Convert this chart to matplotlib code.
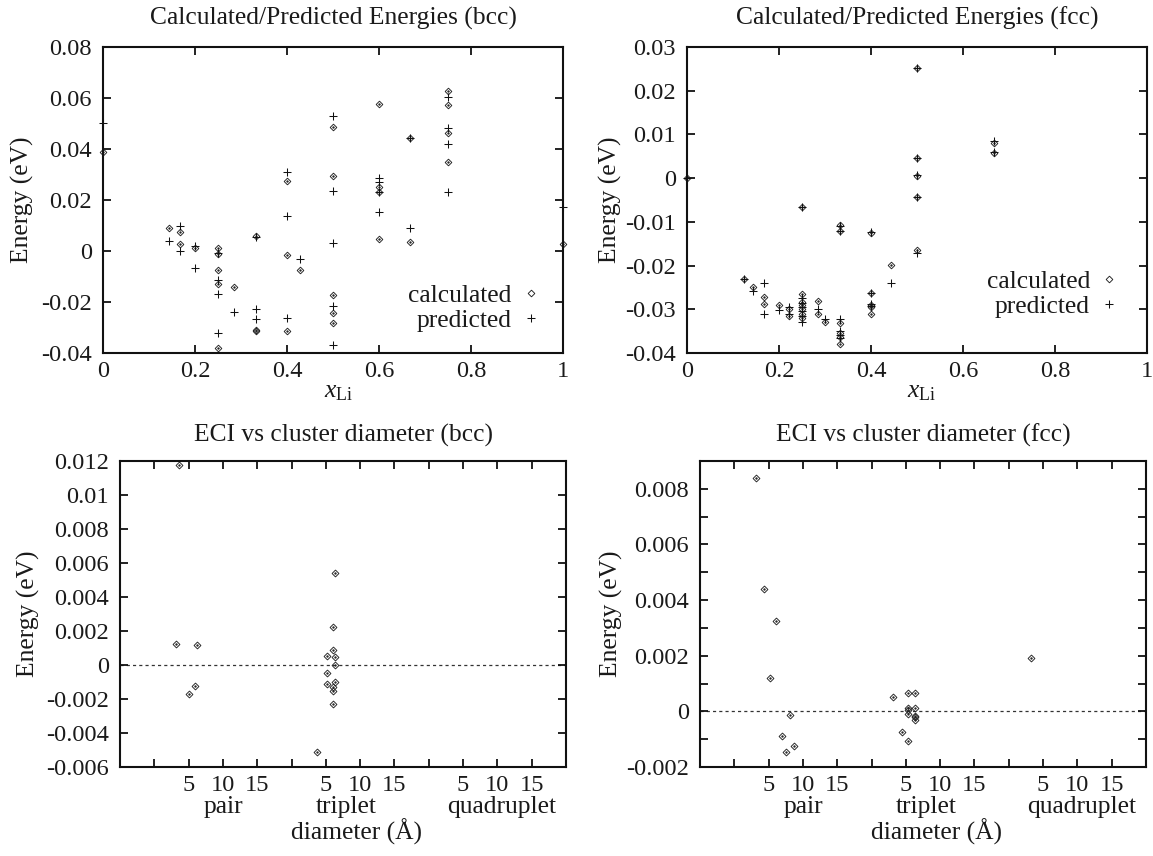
import matplotlib
matplotlib.use('Agg')
import matplotlib.pyplot as plt
from matplotlib.ticker import FixedLocator

plt.rcParams['font.family'] = 'Liberation Serif'
plt.rcParams['mathtext.fontset'] = 'custom'
plt.rcParams['mathtext.rm'] = 'Liberation Serif'
plt.rcParams['mathtext.it'] = 'Liberation Serif:italic'

# ---------------- data ----------------
bcc_calc_x = [0, 1/7, 1/6, 1/6, 0.2, 0.25, 0.25, 0.25, 0.25, 0.25, 2/7, 1/3, 1/3, 1/3,
              0.4, 0.4, 0.4, 3/7, 0.5, 0.5, 0.5, 0.5, 0.5, 0.6, 0.6, 0.6, 0.6,
              2/3, 2/3, 0.75, 0.75, 0.75, 0.75, 1]
bcc_calc_y = [0.0390, 0.0090, 0.0076, 0.0026, 0.0011, 0.0013, -0.0010, -0.0076, -0.0131, -0.0382,
              -0.0140, 0.0060, -0.0313, -0.0311, 0.0275, -0.0014, -0.0313, -0.0076,
              0.0485, 0.0294, -0.0174, -0.0245, -0.0283, 0.0577, 0.0252, 0.0232, 0.0049,
              0.0442, 0.0034, 0.0627, 0.0573, 0.0463, 0.0350, 0.0026]
bcc_pred_x = [0, 1/7, 1/6, 1/6, 0.2, 0.2, 0.25, 0.25, 0.25, 0.25, 2/7, 1/3, 1/3, 1/3,
              0.4, 0.4, 0.4, 3/7, 0.5, 0.5, 0.5, 0.5, 0.5, 0.6, 0.6, 0.6, 0.6,
              2/3, 2/3, 0.75, 0.75, 0.75, 0.75, 1]
bcc_pred_y = [0.0501, 0.0041, 0.0098, 0.0000, 0.0018, -0.0066, -0.0008, -0.0114, -0.0168, -0.0320,
              -0.0241, 0.0055, -0.0227, -0.0266, 0.0308, 0.0139, -0.0264, -0.0033,
              0.0531, 0.0237, 0.0030, -0.0214, -0.0369, 0.0285, 0.0272, 0.0232, 0.0153,
              0.0442, 0.0090, 0.0603, 0.0481, 0.0420, 0.0232, 0.0171]

fcc_calc_x = [0, 1/8, 1/7, 1/6, 1/6, 0.2, 2/9, 2/9,
              0.25, 0.25, 0.25, 0.25, 0.25, 0.25, 0.25, 2/7, 2/7, 0.3,
              1/3, 1/3, 1/3, 1/3, 1/3, 1/3, 0.4, 0.4, 0.4, 0.4, 0.4, 4/9,
              0.5, 0.5, 0.5, 0.5, 0.5, 2/3, 2/3]
fcc_calc_y = [0.0, -0.0231, -0.0249, -0.0273, -0.0289, -0.0291, -0.0300, -0.0316,
              -0.0067, -0.0264, -0.0283, -0.0290, -0.0300, -0.0310, -0.0321, -0.0281, -0.0311, -0.0328,
              -0.0108, -0.0120, -0.0332, -0.0354, -0.0363, -0.0379, -0.0126, -0.0262, -0.0290, -0.0294, -0.0311, -0.0198,
              0.0251, 0.0045, 0.0005, -0.0042, -0.0164, 0.0057, 0.0081]
fcc_pred_x = [0, 1/8, 1/7, 1/6, 1/6, 0.2, 2/9, 2/9,
              0.25, 0.25, 0.25, 0.25, 0.25, 0.25, 0.25, 2/7, 0.3,
              1/3, 1/3, 1/3, 1/3, 1/3, 1/3, 0.4, 0.4, 0.4, 0.4, 4/9,
              0.5, 0.5, 0.5, 0.5, 0.5, 2/3, 2/3]
fcc_pred_y = [0.0, -0.0231, -0.0259, -0.0241, -0.0310, -0.0302, -0.0295, -0.0310,
              -0.0067, -0.0275, -0.0285, -0.0295, -0.0305, -0.0315, -0.0328, -0.0300, -0.0323,
              -0.0110, -0.0120, -0.0323, -0.0350, -0.0358, -0.0366, -0.0124, -0.0262, -0.0288, -0.0292, -0.0239,
              0.0251, 0.0047, 0.0008, -0.0042, -0.0172, 0.0059, 0.0085]

# ECI (x = diameter + 20*group offset: pair 0, triplet 20, quadruplet 40)
bcc_eci_x = [3.6, 3.1, 6.2, 5.1, 5.9,
             26.3, 26.0, 26.0, 25.15, 26.3, 26.3, 25.15, 26.3, 25.15, 26.0, 26.0, 26.0, 23.7]
bcc_eci_y = [0.01176, 0.00125, 0.00116, -0.00173, -0.00125,
             0.00541, 0.00225, 0.00090, 0.00051, 0.00045, 0.0, -0.00049, -0.00098, -0.00112,
             -0.00131, -0.00151, -0.00231, -0.00512]
fcc_eci_x = [3.1, 4.4, 6.1, 5.25, 8.1, 6.9, 7.5, 8.7,
             23.1, 25.3, 26.3, 25.3, 25.3, 26.3, 25.3, 26.3, 26.3, 26.3, 24.4, 25.3,
             43.2]
fcc_eci_y = [0.00838, 0.00440, 0.00324, 0.00121, -0.00014, -0.00087, -0.00147, -0.00125,
             0.00050, 0.00065, 0.00065, 0.00012, 0.00006, 0.00011, -0.00011, -0.00016, -0.00020, -0.00030,
             -0.00073, -0.00105,
             0.00193]

comp_ticks = [0, 0.2, 0.4, 0.6, 0.8, 1]
comp_ticklabels = ['0', '0.2', '0.4', '0.6', '0.8', '1']
bcc_e_ticks = [-0.04, -0.02, 0, 0.02, 0.04, 0.06, 0.08]
bcc_e_labels = ['-0.04', '-0.02', '0', '0.02', '0.04', '0.06', '0.08']
fcc_e_ticks = [-0.04, -0.03, -0.02, -0.01, 0, 0.01, 0.02, 0.03]
fcc_e_labels = ['-0.04', '-0.03', '-0.02', '-0.01', '0', '0.01', '0.02', '0.03']
diam_ticks = [0, 5, 10, 15, 20, 25, 30, 35, 40, 45, 50, 55]
diam_labels = ['', '5', '10', '15', '', '5', '10', '15', '', '5', '10', '15']
groups = ['pair', 'triplet', 'quadruplet']
group_pos = [10.1, 27.9, 50.6]
bcc_eci_ticks = [-0.006, -0.004, -0.002, 0, 0.002, 0.004, 0.006, 0.008, 0.010, 0.012]
bcc_eci_labels = ['-0.006', '-0.004', '-0.002', '0', '0.002', '0.004', '0.006', '0.008', '0.01', '0.012']
fcc_eci_ticks = [-0.002, 0, 0.002, 0.004, 0.006, 0.008]
fcc_eci_labels = ['-0.002', '0', '0.002', '0.004', '0.006', '0.008']
fcc_eci_minor = [-0.001, 0.001, 0.003, 0.005, 0.007, 0.009]

# ---------------- figure ----------------
W, H = 1153, 856
FS = 17.6
FT = 18.4
TXT = '#1a1a1a'
fig = plt.figure(figsize=(W / 100, H / 100), dpi=100)


def box(l, r, t, b):
    return [l / W, 1 - b / H, (r - l) / W, (b - t) / H]


def style(ax, xpad, ypad):
    for s in ax.spines.values():
        s.set_linewidth(1.5)
        s.set_color('#111111')
    ax.tick_params(which='both', direction='in', top=True, right=True, length=5.8, width=1.3,
                   labelsize=FS, colors='#111111', labelcolor=TXT)
    ax.tick_params(axis='x', pad=xpad)
    ax.tick_params(axis='y', pad=ypad)


def energies(ax, cx, cy, px, py, yt, yl, ylim, legend_anchor):
    ax.plot(cx, cy, ls='none', marker='D', ms=3.4, mfc='none', mec='#222222', mew=0.65,
            clip_on=False, label='calculated')
    ax.plot(cx, cy, ls='none', marker='o', ms=0.7, color='#222222', clip_on=False)
    ax.plot(px, py, ls='none', marker='+', ms=5.6, color='#111111', mew=0.75,
            clip_on=False, label='predicted')
    ax.set_xlim(0, 1)
    ax.set_ylim(*ylim)
    ax.set_xticks(comp_ticks, comp_ticklabels)
    ax.set_yticks(yt, yl)
    style(ax, 5.5, 8)
    h, l = ax.get_legend_handles_labels()
    ax.legend(h, ['calculated', 'predicted'],
              loc='lower right', bbox_to_anchor=legend_anchor, frameon=False,
              markerfirst=False, fontsize=FT, handlelength=0.8, handletextpad=0.35,
              labelspacing=0.08, borderpad=0, borderaxespad=0, labelcolor=TXT)


ax1 = fig.add_axes(box(103, 563, 47, 353))
energies(ax1, bcc_calc_x, bcc_calc_y, bcc_pred_x, bcc_pred_y, bcc_e_ticks, bcc_e_labels,
         (-0.04, 0.08), (0.952, 0.068))
ax2 = fig.add_axes(box(687, 1147, 47, 353))
energies(ax2, fcc_calc_x, fcc_calc_y, fcc_pred_x, fcc_pred_y, fcc_e_ticks, fcc_e_labels,
         (-0.04, 0.03), (0.94, 0.115))


def eci(ax, x, y, yt, yl, ylim, minor=None):
    ax.axhline(0, color='#333333', lw=0.9, ls=(0, (2.5, 2.5)), zorder=1)
    ax.plot(x, y, ls='none', marker='D', ms=3.5, mfc='none', mec='#222222', mew=0.65, clip_on=False)
    ax.plot(x, y, ls='none', marker='o', ms=0.7, color='#222222', clip_on=False)
    ax.set_xlim(-5, 60)
    ax.set_ylim(*ylim)
    ax.set_xticks(diam_ticks, diam_labels)
    ax.set_yticks(yt, yl)
    if minor is not None:
        ax.yaxis.set_minor_locator(FixedLocator(minor))
    style(ax, 6, 8)
    for g, p in zip(groups, group_pos):
        ax.text(p, -0.15, g, transform=ax.get_xaxis_transform(), ha='center', va='baseline',
                fontsize=FT, color=TXT)
    ax.text(29.5, -0.238, 'diameter (Å)', transform=ax.get_xaxis_transform(), ha='center',
            va='baseline', fontsize=FT, color=TXT)


ax3 = fig.add_axes(box(120, 566, 461, 767))
eci(ax3, bcc_eci_x, bcc_eci_y, bcc_eci_ticks, bcc_eci_labels, (-0.006, 0.012))
ax4 = fig.add_axes(box(700, 1146, 461, 767))
eci(ax4, fcc_eci_x, fcc_eci_y, fcc_eci_ticks, fcc_eci_labels, (-0.002, 0.009), fcc_eci_minor)

# titles
fig.text(333 / W, 1 - 25 / H, 'Calculated/Predicted Energies (bcc)', ha='center', va='baseline',
         fontsize=FT, color=TXT)
fig.text(917 / W, 1 - 25 / H, 'Calculated/Predicted Energies (fcc)', ha='center', va='baseline',
         fontsize=FT, color=TXT)
fig.text(343 / W, 1 - 442 / H, 'ECI vs cluster diameter (bcc)', ha='center', va='baseline',
         fontsize=FT, color=TXT)
fig.text(923 / W, 1 - 442 / H, 'ECI vs cluster diameter (fcc)', ha='center', va='baseline',
         fontsize=FT, color=TXT)

# x labels (top)
fig.text(339 / W, 1 - 397 / H, r'$x_{\mathrm{Li}}$', ha='center', va='baseline', fontsize=FT, color=TXT)
fig.text(922 / W, 1 - 397 / H, r'$x_{\mathrm{Li}}$', ha='center', va='baseline', fontsize=FT, color=TXT)

# y labels
for xc, yc in [(22, 200), (610, 200), (28, 614), (611, 614)]:
    fig.text(xc / W, 1 - yc / H, 'Energy (eV)', rotation=90, ha='center', va='center',
             fontsize=FT, color=TXT)

fig.savefig('out.png', dpi=100)
